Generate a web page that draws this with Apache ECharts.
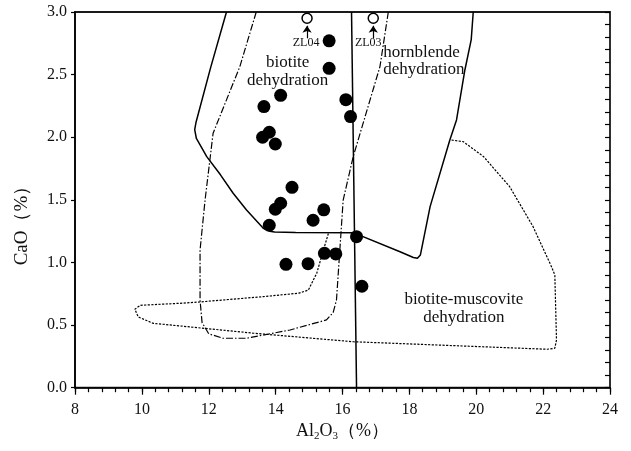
<!DOCTYPE html>
<html>
<head>
<meta charset="utf-8">
<script src="https://cdn.jsdelivr.net/npm/echarts@6/dist/echarts.min.js"></script>
<style>html,body{margin:0;padding:0;background:#fff;}#c{width:631px;height:451px;}</style>
</head>
<body>
<div id="c"></div>
<script>
// ---- data ----
const xTicks = ['8', '10', '12', '14', '16', '18', '20', '22', '24'];
const yTicks = ['0.0', '0.5', '1.0', '1.5', '2.0', '2.5', '3.0'];

const sampleAl2O3 = [15.60, 15.60, 14.15, 13.65, 16.10, 16.24, 13.61, 13.81, 13.99, 14.49, 14.15, 13.99, 13.81, 15.44, 15.12, 16.42, 15.46, 15.80, 14.31, 14.97, 16.58];
const sampleCaO   = [2.77, 2.55, 2.335, 2.245, 2.30, 2.165, 2.00, 2.04, 1.946, 1.60, 1.473, 1.425, 1.297, 1.42, 1.337, 1.206, 1.073, 1.068, 0.985, 0.99, 0.81];

const openNames = ['ZL04', 'ZL03'];
const openAl2O3 = [14.94, 16.92];
const openCaO   = [2.95, 2.95];
const arrowTailCaO = [2.79, 2.79];
const arrowHeadCaO = [2.89, 2.89];
const openLabelCaO = [2.75, 2.75];
const openLabelAl2O3 = [14.91, 16.77];

// solid boundary (biotite / hornblende dehydration)
const solidX = [12.53, 12.05, 11.62, 11.58, 11.63, 11.94, 12.35, 12.73, 13.13, 13.63, 13.82, 13.97, 14.6, 16.32, 17.72, 18.12, 18.24, 18.33, 18.62, 19.21, 19.41, 19.66, 19.85, 19.91];
const solidY = [3.0, 2.55, 2.12, 2.06, 1.99, 1.845, 1.70, 1.553, 1.419, 1.273, 1.25, 1.243, 1.240, 1.238, 1.086, 1.040, 1.033, 1.06, 1.446, 1.978, 2.138, 2.537, 2.78, 3.0];

// vertical boundary
const vertX = [16.27, 16.42];
const vertY = [3.0, 0.0];

// dash-dot boundary
const dashDotX = [13.42, 12.93, 12.13, 11.89, 11.74, 11.74, 11.80, 12.0, 12.43, 13.13, 14.43, 15.52, 15.72, 15.82, 15.92, 16.02, 16.32, 17.12, 17.37];
const dashDotY = [3.0, 2.564, 2.032, 1.499, 1.099, 0.700, 0.52, 0.43, 0.395, 0.395, 0.461, 0.541, 0.60, 0.700, 1.099, 1.498, 1.845, 2.564, 3.0];

// dotted boundary (biotite-muscovite dehydration)
const dottedX = [19.26, 19.61, 20.22, 21.0, 21.70, 22.25, 22.35, 22.40, 22.35, 22.12, 16.32, 13.35, 10.34, 9.89, 9.79, 9.96, 11.14, 11.74, 13.63, 14.70, 14.98, 15.23, 15.43, 15.58];
const dottedY = [1.978, 1.965, 1.845, 1.605, 1.286, 0.966, 0.90, 0.381, 0.315, 0.307, 0.367, 0.435, 0.514, 0.565, 0.627, 0.658, 0.674, 0.685, 0.727, 0.755, 0.78, 0.914, 1.10, 1.233];

const fieldNames = ['biotite\ndehydration', 'hornblende\ndehydration', 'biotite-muscovite\ndehydration'];
const fieldAl2O3 = [14.36, 17.22, 19.63];
const fieldCaO   = [2.525, 2.61, 0.634];
const fieldAlign = ['center', 'left', 'center'];

// ---- chart ----
const serif = '"Liberation Serif", "Times New Roman", serif';
const ink = '#000';
const zip = (xs, ys) => xs.map((x, i) => [x, ys[i]]);

const chart = echarts.init(document.getElementById('c'), null, {renderer: 'canvas'});

const baseX = {type: 'value', min: 8, max: 24, interval: 2, splitLine: {show: false}};
const baseY = {type: 'value', min: 0, max: 3, interval: 0.5, splitLine: {show: false}};

chart.setOption({
  animation: false,
  backgroundColor: '#fff',
  grid: {left: 75, right: 21, top: 12, bottom: 63.3, show: true, borderColor: '#1a1a1a', borderWidth: 1.8, outerBoundsMode: 'none', containLabel: false},
  xAxis: [
    Object.assign({}, baseX, {
      axisLine: {show: true, lineStyle: {color: ink, width: 1.5}},
      axisTick: {show: true, inside: false, length: 7, lineStyle: {color: ink, width: 1.2}},
      axisLabel: {margin: 14, fontSize: 16, fontFamily: serif, color: '#111',
        formatter: (v) => xTicks[Math.round((v - 8) / 2)]},
      name: '{a|Al}{s|2}{a|O}{s|3}{a|（%）}',
      nameLocation: 'middle', nameGap: 24,
      nameTextStyle: {rich: {
        a: {fontSize: 18, fontFamily: serif, color: '#111'},
        s: {fontSize: 11, fontFamily: serif, color: '#111', padding: [9, 0, 0, 0]}
      }}
    }),
    Object.assign({}, baseX, {
      gridIndex: 0,
      axisLine: {show: false},
      axisLabel: {show: false},
      axisTick: {show: true, inside: true, length: 4.5, lineStyle: {color: ink, width: 1.2}},
      minorTick: {show: true, splitNumber: 5, length: 4.5, lineStyle: {color: ink, width: 1.2}}
    })
  ],
  yAxis: [
    Object.assign({}, baseY, {
      axisLine: {show: true, lineStyle: {color: ink, width: 1.5}},
      axisTick: {show: true, inside: false, length: 4, lineStyle: {color: ink, width: 1.2}},
      axisLabel: {margin: 8, fontSize: 16, fontFamily: serif, color: '#111',
        formatter: (v) => yTicks[Math.round(v / 0.5)]}
    }),
    Object.assign({}, baseY, {
      gridIndex: 0,
      axisLine: {show: false},
      axisLabel: {show: false},
      axisTick: {show: true, inside: true, length: 5, lineStyle: {color: ink, width: 1.2}},
      minorTick: {show: true, splitNumber: 5, length: 5, lineStyle: {color: ink, width: 1.2}}
    })
  ],
  graphic: [{
    type: 'text', x: 22, y: 221, rotation: Math.PI / 2,
    style: {text: 'CaO（%）', fontSize: 19, fontFamily: serif, fill: '#111',
      align: 'center', verticalAlign: 'middle', textAlign: 'center', textVerticalAlign: 'middle'}
  }],
  series: [
    {type: 'line', data: zip(solidX, solidY), showSymbol: false, symbol: 'none',
      lineStyle: {color: ink, width: 1.5, opacity: 1}, z: 2},
    {type: 'line', data: zip(vertX, vertY), showSymbol: false, symbol: 'none',
      lineStyle: {color: ink, width: 1.5, opacity: 1}, z: 2},
    {type: 'line', data: zip(dashDotX, dashDotY), showSymbol: false, symbol: 'none',
      lineStyle: {color: ink, width: 1.2, type: [7, 2, 1.5, 2], opacity: 1}, z: 2},
    {type: 'line', data: zip(dottedX, dottedY), showSymbol: false, symbol: 'none',
      lineStyle: {color: ink, width: 1.2, type: [2.2, 1.4], opacity: 1}, z: 2},
    {type: 'scatter', data: zip(sampleAl2O3, sampleCaO), symbol: 'circle', symbolSize: 13,
      itemStyle: {color: '#000', opacity: 1}, z: 5},
    {type: 'scatter', data: openAl2O3.map((x, i) => ({value: [x, openCaO[i]], name: openNames[i]})),
      symbol: 'circle', symbolSize: 10,
      itemStyle: {color: '#fff', borderColor: ink, borderWidth: 1.5, opacity: 1}, z: 5},
    {type: 'line', name: 'arrows', data: [], z: 4,
      markLine: {silent: true, symbol: ['none', 'arrow'], symbolSize: 7, animation: false,
        label: {show: false},
        lineStyle: {color: ink, width: 1.2, type: 'solid', opacity: 1},
        data: openAl2O3.map((x, i) => [{coord: [x, arrowTailCaO[i]]}, {coord: [x, arrowHeadCaO[i]]}])}},
    {type: 'scatter', data: openLabelAl2O3.map((x, i) => ({value: [x, openLabelCaO[i]], name: openNames[i]})),
      symbolSize: 1, itemStyle: {color: 'rgba(0,0,0,0)', opacity: 1}, z: 6,
      label: {show: true, position: 'inside', formatter: (p) => p.name,
        fontSize: 12, fontFamily: serif, color: '#111'}},
    {type: 'scatter', data: fieldAl2O3.map((x, i) => ({value: [x, fieldCaO[i]], name: fieldNames[i],
        label: {align: fieldAlign[i]}})),
      symbolSize: 1, itemStyle: {color: 'rgba(0,0,0,0)', opacity: 1}, z: 6,
      label: {show: true, position: 'inside', formatter: (p) => p.name,
        fontSize: 17, lineHeight: 17.5, fontFamily: serif, color: '#111', align: 'center', verticalAlign: 'middle'}}
  ]
});
</script>
</body>
</html>
